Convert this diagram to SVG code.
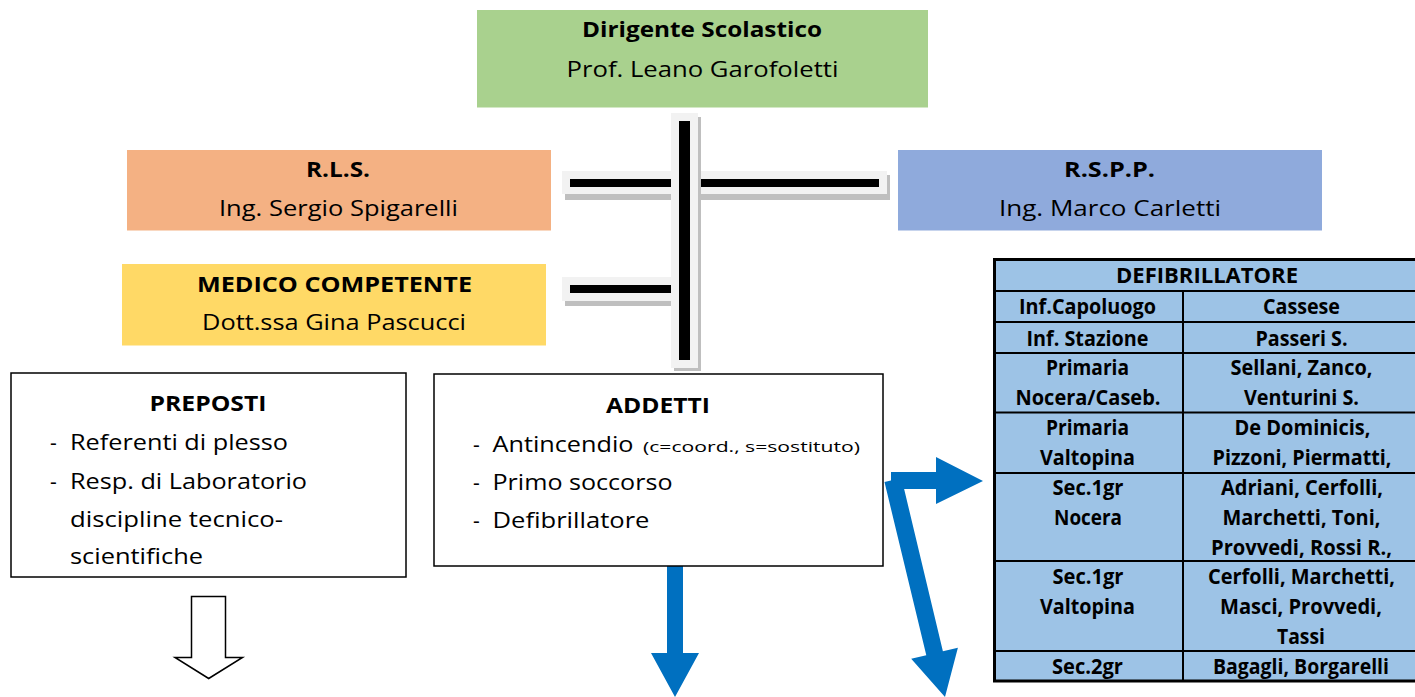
<svg xmlns="http://www.w3.org/2000/svg" width="1415" height="697" viewBox="0 0 1415 697">
<style>
text{font-family:"Open Sans","Noto Sans","Liberation Sans",sans-serif;fill:#000;font-size:21px}
.b{font-weight:bold}
.c{text-anchor:middle}
.sm{font-size:15px}
.box{stroke:#000;stroke-width:1.5;fill:#fff}
.panel{fill:#F2F2F2}
.shadow{fill:#BFBFBF}
.bar{fill:#000}
.blue{fill:#0070C0}
.tl{stroke:#000;stroke-width:2}
</style>
<rect width="1415" height="697" fill="#fff"/>

<g id="connectors">
  <rect class="shadow" x="565" y="175" width="325" height="25"/>
  <rect class="panel" x="562" y="171" width="325" height="23"/>
  <rect class="bar" x="570" y="179" width="309" height="8"/>
  <rect class="shadow" x="565" y="281" width="109" height="25"/>
  <rect class="panel" x="562" y="277" width="109" height="24"/>
  <rect class="bar" x="570" y="285" width="101" height="8"/>
  <rect class="shadow" x="674" y="117" width="27" height="254"/>
  <rect class="panel" x="671" y="113" width="27" height="255"/>
  <rect class="bar" x="679" y="121" width="11" height="239"/>
  <polygon class="blue" points="667,566 683,566 683,653 699,653 675,697 651,653 667,653"/>
  <polygon class="blue" points="891,472 936,472 936,457 983,481 936,504 936,489 891,489"/>
  <polygon class="blue" points="884.5,482 901.5,478 942.9,651.2 957.9,647.7 945,697 911.2,658.7 926.3,655.2"/>
  <polygon points="191.5,596.5 225.5,596.5 225.5,657.5 242.5,657.5 208.7,678.5 175,657.5 191.5,657.5" fill="#fff" stroke="#000" stroke-width="1.5"/>
</g>

<g id="dirigente">
  <rect x="477" y="10" width="451" height="97.5" fill="#A9D18E"/>
  <text class="b c" x="702" y="37" textLength="240" lengthAdjust="spacingAndGlyphs">Dirigente Scolastico</text>
  <text class="c" x="702.5" y="77" textLength="272" lengthAdjust="spacingAndGlyphs">Prof. Leano Garofoletti</text>
</g>

<g id="rls">
  <rect x="127" y="150" width="424" height="80.5" fill="#F4B183"/>
  <text class="b c" x="338" y="176.5" textLength="64" lengthAdjust="spacingAndGlyphs">R.L.S.</text>
  <text class="c" x="338.5" y="216" textLength="239" lengthAdjust="spacingAndGlyphs">Ing. Sergio Spigarelli</text>
</g>

<g id="rspp">
  <rect x="898" y="150" width="424" height="80.5" fill="#8FAADC"/>
  <text class="b c" x="1109.5" y="176.5" textLength="91" lengthAdjust="spacingAndGlyphs">R.S.P.P.</text>
  <text class="c" x="1110" y="216" textLength="222" lengthAdjust="spacingAndGlyphs">Ing. Marco Carletti</text>
</g>

<g id="medico">
  <rect x="122" y="264" width="424" height="81.5" fill="#FFD966"/>
  <text class="b c" x="334.5" y="291.5" textLength="275" lengthAdjust="spacingAndGlyphs">MEDICO COMPETENTE</text>
  <text class="c" x="334" y="330" textLength="264" lengthAdjust="spacingAndGlyphs">Dott.ssa Gina Pascucci</text>
</g>

<g id="preposti">
  <rect class="box" x="11" y="373" width="395" height="204"/>
  <text class="b c" x="208" y="410.5" textLength="117" lengthAdjust="spacingAndGlyphs">PREPOSTI</text>
  <text x="50" y="450">-</text><text x="70" y="450" textLength="218" lengthAdjust="spacingAndGlyphs">Referenti di plesso</text>
  <text x="50" y="488.5">-</text><text x="70" y="488.5" textLength="237" lengthAdjust="spacingAndGlyphs">Resp. di Laboratorio</text>
  <text x="70" y="526.5" textLength="213" lengthAdjust="spacingAndGlyphs">discipline tecnico-</text>
  <text x="70" y="564" textLength="133" lengthAdjust="spacingAndGlyphs">scientifiche</text>
</g>

<g id="addetti">
  <rect class="box" x="434" y="374" width="449" height="192"/>
  <text class="b c" x="658" y="413" textLength="104" lengthAdjust="spacingAndGlyphs">ADDETTI</text>
  <text x="473" y="451.5">-</text><text x="492.5" y="451.5" textLength="141" lengthAdjust="spacingAndGlyphs">Antincendio</text>
  <text class="sm" x="643" y="451.5" textLength="217" lengthAdjust="spacingAndGlyphs">(c=coord., s=sostituto)</text>
  <text x="473" y="489.5">-</text><text x="492.5" y="489.5" textLength="180" lengthAdjust="spacingAndGlyphs">Primo soccorso</text>
  <text x="473" y="527.5">-</text><text x="492.5" y="527.5" textLength="157" lengthAdjust="spacingAndGlyphs">Defibrillatore</text>
</g>

<g id="defibrillatore-table">
  <rect x="994.5" y="259.5" width="426" height="421.5" fill="#9DC3E6" stroke="#000" stroke-width="3"/>
  <line class="tl" x1="994" y1="291" x2="1420" y2="291"/>
  <line class="tl" x1="994" y1="322" x2="1420" y2="322"/>
  <line class="tl" x1="994" y1="353" x2="1420" y2="353"/>
  <line class="tl" x1="994" y1="412.5" x2="1420" y2="412.5"/>
  <line class="tl" x1="994" y1="473" x2="1420" y2="473"/>
  <line class="tl" x1="994" y1="561" x2="1420" y2="561"/>
  <line class="tl" x1="994" y1="651" x2="1420" y2="651"/>
  <line class="tl" x1="1183" y1="291" x2="1183" y2="681"/>
  <text class="b c" x="1207" y="283" textLength="182" lengthAdjust="spacingAndGlyphs">DEFIBRILLATORE</text>
  <text class="b c" x="1087.5" y="314" textLength="137" lengthAdjust="spacingAndGlyphs">Inf.Capoluogo</text>
  <text class="b c" x="1301.5" y="314" textLength="77" lengthAdjust="spacingAndGlyphs">Cassese</text>
  <text class="b c" x="1087.5" y="345.5" textLength="122" lengthAdjust="spacingAndGlyphs">Inf. Stazione</text>
  <text class="b c" x="1301.5" y="345.5" textLength="92" lengthAdjust="spacingAndGlyphs">Passeri S.</text>
  <text class="b c" x="1087.5" y="375" textLength="83" lengthAdjust="spacingAndGlyphs">Primaria</text>
  <text class="b c" x="1088" y="405" textLength="145" lengthAdjust="spacingAndGlyphs">Nocera/Caseb.</text>
  <text class="b c" x="1301.5" y="375" textLength="142" lengthAdjust="spacingAndGlyphs">Sellani, Zanco,</text>
  <text class="b c" x="1301.5" y="405" textLength="115" lengthAdjust="spacingAndGlyphs">Venturini S.</text>
  <text class="b c" x="1087.5" y="435" textLength="83" lengthAdjust="spacingAndGlyphs">Primaria</text>
  <text class="b c" x="1087.5" y="465" textLength="95" lengthAdjust="spacingAndGlyphs">Valtopina</text>
  <text class="b c" x="1302.5" y="435" textLength="136" lengthAdjust="spacingAndGlyphs">De Dominicis,</text>
  <text class="b c" x="1302" y="465" textLength="179" lengthAdjust="spacingAndGlyphs">Pizzoni, Piermatti,</text>
  <text class="b c" x="1088" y="495" textLength="71" lengthAdjust="spacingAndGlyphs">Sec.1gr</text>
  <text class="b c" x="1088" y="525" textLength="68" lengthAdjust="spacingAndGlyphs">Nocera</text>
  <text class="b c" x="1302" y="495" textLength="162" lengthAdjust="spacingAndGlyphs">Adriani, Cerfolli,</text>
  <text class="b c" x="1301.5" y="525" textLength="158" lengthAdjust="spacingAndGlyphs">Marchetti, Toni,</text>
  <text class="b c" x="1301.5" y="555" textLength="181" lengthAdjust="spacingAndGlyphs">Provvedi, Rossi R.,</text>
  <text class="b c" x="1088" y="583.5" textLength="71" lengthAdjust="spacingAndGlyphs">Sec.1gr</text>
  <text class="b c" x="1087.5" y="613.5" textLength="95" lengthAdjust="spacingAndGlyphs">Valtopina</text>
  <text class="b c" x="1301.5" y="583.5" textLength="187" lengthAdjust="spacingAndGlyphs">Cerfolli, Marchetti,</text>
  <text class="b c" x="1301" y="613.5" textLength="162" lengthAdjust="spacingAndGlyphs">Masci, Provvedi,</text>
  <text class="b c" x="1301" y="643.5" textLength="48" lengthAdjust="spacingAndGlyphs">Tassi</text>
  <text class="b c" x="1087.5" y="673.5" textLength="71" lengthAdjust="spacingAndGlyphs">Sec.2gr</text>
  <text class="b c" x="1301" y="673.5" textLength="176" lengthAdjust="spacingAndGlyphs">Bagagli, Borgarelli</text>
</g>
</svg>
